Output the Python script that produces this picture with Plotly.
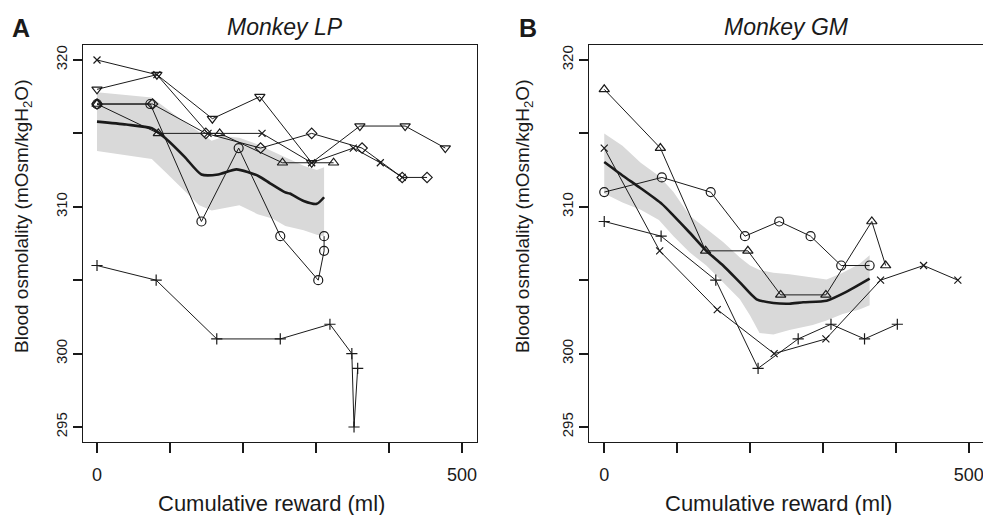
import plotly.graph_objects as go

# ---------------- Panel A : Monkey LP ----------------
lp_cross_x = [0, 82, 152, 226, 294, 351, 388, 418]
lp_cross_y = [320, 319, 315, 315, 313, 314, 313, 312]
lp_tridown_x = [0, 82, 158, 223, 294, 360, 422, 477]
lp_tridown_y = [318, 319, 316, 317.5, 313, 315.5, 315.5, 314]
lp_diamond_x = [0, 76, 149, 224, 294, 363, 418, 452]
lp_diamond_y = [317, 317, 315, 314, 315, 314, 312, 312]
lp_circle_x = [0, 73, 143, 194, 251, 303, 311, 311]
lp_circle_y = [317, 317, 309, 314, 308, 305, 307, 308]
lp_triup_x = [0, 84, 168, 254, 324]
lp_triup_y = [317, 315, 315, 313, 313]
lp_plus_x = [0, 81, 164, 251, 319, 349, 352, 357]
lp_plus_y = [306, 305, 301, 301, 302, 300, 295, 299]

lp_band_x = [0, 40, 75, 95, 120, 140, 157, 175, 195, 220, 240, 258, 283, 301, 311]
lp_band_hi = [317.8, 317.6, 317.45, 316.7, 315.75, 315.1, 314.5, 314.8, 314.7, 314.25, 313.8, 313.4, 312.8, 312.5, 312.7]
lp_band_lo = [313.8, 313.5, 313.25, 312.3, 311.1, 310.1, 309.75, 309.9, 310.1, 309.5, 309.2, 308.7, 308.4, 308.1, 308.0]
lp_mean_x = [0, 40, 75, 93, 120, 143, 166, 191, 221, 237, 257, 264, 283, 301, 311]
lp_mean_y = [315.8, 315.6, 315.35, 314.7, 313.4, 312.2, 312.2, 312.55, 312.1, 311.6, 311.0, 310.9, 310.4, 310.2, 310.65]

# ---------------- Panel B : Monkey GM ----------------
gm_triup_x = [0, 77, 139, 197, 242, 304, 367, 386]
gm_triup_y = [318, 314, 307, 307, 304, 304, 309, 306]
gm_circle_x = [0, 79, 146, 193, 240, 283, 325, 364]
gm_circle_y = [311, 312, 311, 308, 309, 308, 306, 306]
gm_cross_x = [0, 76, 155, 233, 304, 379, 438, 485]
gm_cross_y = [314, 307, 303, 300, 301, 305, 306, 305]
gm_plus_x = [0, 78, 153, 211, 266, 311, 357, 402]
gm_plus_y = [309, 308, 305, 299, 301, 302, 301, 302]

gm_band_x = [0, 25, 50, 75, 95, 117, 140, 163, 186, 200, 213, 232, 254, 286, 305, 327, 350, 364]
gm_band_hi = [315.0, 314.15, 313.0, 312.1, 311.0, 309.4, 308.5, 307.6, 306.55, 306.0, 305.7, 305.5, 305.4, 305.15, 305.05, 305.5, 306.1, 306.7]
gm_band_lo = [310.9, 310.3, 309.8, 309.1, 308.0, 306.9, 306.0, 304.85, 303.7, 302.6, 301.4, 301.3, 301.6, 301.95, 302.25, 302.7, 303.0, 303.3]
gm_mean_x = [0, 26, 49, 79, 95, 117, 140, 163, 186, 209, 232, 254, 273, 305, 332, 364]
gm_mean_y = [313.05, 312.1, 311.3, 310.2, 309.4, 308.25, 307.0, 306.0, 304.85, 303.7, 303.45, 303.4, 303.5, 303.6, 304.2, 305.1]

x_label_vals = [0, 500]
x_label_text = ["0", "500"]
x_minor_vals = [100, 200, 300, 400]
y_label_vals = [295, 300, 310, 320]
y_label_text = ["295", "300", "310", "320"]
y_minor_vals = [305, 315]

FONT = "Liberation Sans, Arial, sans-serif"
INK = "#1a1a1a"

fig = go.Figure()


def add_panel(xa, ya, band_x, hi, lo, mean_x, mean_y, series):
    fig.add_trace(go.Scatter(
        x=band_x + band_x[::-1], y=hi + lo[::-1], fill="toself",
        fillcolor="#d9d9d9", line=dict(width=0), mode="lines",
        hoverinfo="skip", showlegend=False, xaxis=xa, yaxis=ya))
    for sx, sy, sym, size in series:
        fig.add_trace(go.Scatter(
            x=sx, y=sy, mode="lines+markers",
            line=dict(color=INK, width=1),
            marker=dict(symbol=sym, size=size, color=INK,
                        line=dict(color=INK, width=1.2)),
            showlegend=False, xaxis=xa, yaxis=ya))
    fig.add_trace(go.Scatter(
        x=mean_x, y=mean_y, mode="lines",
        line=dict(color=INK, width=2.6, shape="spline", smoothing=0.6),
        showlegend=False, xaxis=xa, yaxis=ya))


add_panel("x", "y", lp_band_x, lp_band_hi, lp_band_lo, lp_mean_x, lp_mean_y, [
    (lp_plus_x, lp_plus_y, "cross-thin-open", 8),
    (lp_circle_x, lp_circle_y, "circle-open", 9),
    (lp_triup_x, lp_triup_y, "triangle-up-open", 9),
    (lp_diamond_x, lp_diamond_y, "diamond-open", 8),
    (lp_tridown_x, lp_tridown_y, "triangle-down-open", 9),
    (lp_cross_x, lp_cross_y, "x-thin-open", 7),
])
add_panel("x2", "y2", gm_band_x, gm_band_hi, gm_band_lo, gm_mean_x, gm_mean_y, [
    (gm_plus_x, gm_plus_y, "cross-thin-open", 8),
    (gm_cross_x, gm_cross_y, "x-thin-open", 7),
    (gm_circle_x, gm_circle_y, "circle-open", 9),
    (gm_triup_x, gm_triup_y, "triangle-up-open", 9),
])

W, H = 983, 515
ydom = [(H - 442) / H, (H - 45) / H]

xcommon = dict(range=[-19.6, 520], tickmode="array", tickvals=x_label_vals,
               ticktext=x_label_text, ticks="outside", ticklen=10, tickwidth=2,
               tickcolor=INK, showline=True, linecolor=INK, linewidth=1.4,
               showgrid=False, zeroline=False, ticklabelstandoff=6,
               ticklabeloverflow="allow",
               minor=dict(tickmode="array", tickvals=x_minor_vals, ticks="outside",
                          ticklen=10, tickwidth=2, tickcolor=INK, showgrid=False),
               tickfont=dict(family=FONT, size=18, color=INK))
ycommon = dict(range=[293.98, 321.02], tickmode="array", tickvals=y_label_vals,
               ticktext=y_label_text, ticks="outside", ticklen=9, tickwidth=2,
               tickcolor=INK, showline=True, linecolor=INK, linewidth=1.4,
               showgrid=False, zeroline=False, tickangle=-90,
               minor=dict(tickmode="array", tickvals=y_minor_vals, ticks="outside",
                          ticklen=9, tickwidth=2, tickcolor=INK, showgrid=False),
               tickfont=dict(family=FONT, size=15, color=INK))

fig.update_layout(
    width=W, height=H, autosize=False,
    margin=dict(l=0, r=0, t=0, b=0),
    paper_bgcolor="white", plot_bgcolor="white",
    showlegend=False,
    xaxis=dict(xcommon, domain=[82.7 / W, 476.7 / W], anchor="y", mirror=True),
    yaxis=dict(ycommon, domain=ydom, anchor="x", mirror=True),
    xaxis2=dict(xcommon, domain=[589.3 / W, 1.0], anchor="y2", mirror=True,
                range=[-20.5, 519.5]),
    yaxis2=dict(ycommon, domain=ydom, anchor="x2", mirror=False),
)

ann = []


def px_ann(text, x, y, size, angle=0, bold=False, italic=False):
    t = text
    if bold:
        t = "<b>" + t + "</b>"
    if italic:
        t = "<i>" + t + "</i>"
    ann.append(dict(text=t, x=x / W, y=1 - y / H, xref="paper", yref="paper",
                    xanchor="center", yanchor="middle", showarrow=False,
                    textangle=angle,
                    font=dict(family=FONT, size=size, color=INK)))


px_ann("A", 21, 28, 25, bold=True)
px_ann("B", 527.5, 28, 25, bold=True)
px_ann("Monkey LP", 285, 27, 23, italic=True)
px_ann("Monkey GM", 786.5, 27, 23, italic=True)
ylab = "Blood osmolality (mOsm/kgH<sub>2</sub>O)"
px_ann(ylab, 23, 217, 19, angle=-90)
px_ann(ylab, 524, 217, 19, angle=-90)
px_ann("Cumulative reward (ml)", 271, 503, 22)
px_ann("Cumulative reward (ml)", 778, 503, 22)
fig.update_layout(annotations=ann)

fig.write_html("out.html")
